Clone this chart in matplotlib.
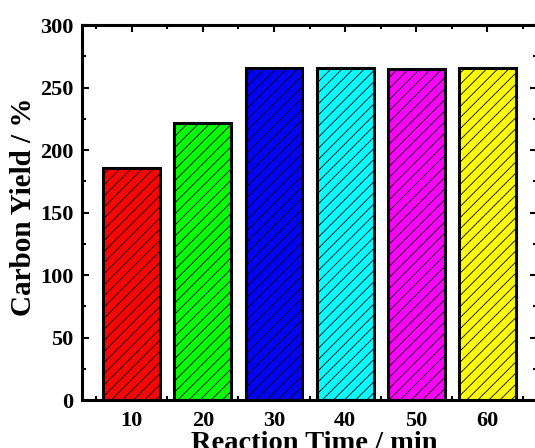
import matplotlib
matplotlib.use("Agg")
import matplotlib.pyplot as plt
from matplotlib.ticker import MultipleLocator

times = [10, 20, 30, 40, 50, 60]
yields = [186, 222, 266, 266, 265, 266]
colors = ["#FF0000", "#00FF00", "#0000FF", "#00FFFF", "#FF00FF", "#FFFF00"]
xticks = [10, 20, 30, 40, 50, 60]
yticks = [0, 50, 100, 150, 200, 250, 300]

plt.rcParams["font.family"] = ["Liberation Serif", "DejaVu Serif"]
plt.rcParams["font.weight"] = "bold"
plt.rcParams["hatch.linewidth"] = 0.6
plt.rcParams["hatch.color"] = "#222222"

fig = plt.figure(figsize=(5.35, 4.48), dpi=100)
ax = fig.add_axes([82/535, 1-400/448, 1.004-82/535, (400-25)/448])

ax.bar(times, yields, width=8, color=colors, edgecolor="black",
       linewidth=2.2, hatch="///", zorder=2)

ax.set_xlim(3, 67)
ax.set_ylim(0, 300)
ax.set_xticks(xticks)
ax.set_yticks(yticks)
ax.xaxis.set_minor_locator(MultipleLocator(5))
ax.yaxis.set_minor_locator(MultipleLocator(25))
ax.tick_params(which="both", direction="in", top=True, right=True, width=1.5)
ax.tick_params(which="major", length=5, labelsize=16)
ax.tick_params(axis="x", which="major", pad=8)
ax.tick_params(axis="y", which="major", pad=6)
ax.tick_params(which="minor", length=3)
for lab in ax.get_xticklabels() + ax.get_yticklabels():
    lab.set_fontweight("bold")
for s in ax.spines.values():
    s.set_linewidth(2.2)

ax.set_xlabel("Reaction Time / min", fontsize=20.5, fontweight="bold")
ax.set_ylabel("Carbon Yield / %", fontsize=21, fontweight="bold")
ax.xaxis.set_label_coords(0.51, -0.083)
ax.yaxis.set_label_coords(-0.099, 0.515)

fig.savefig("out.png", dpi=100)
